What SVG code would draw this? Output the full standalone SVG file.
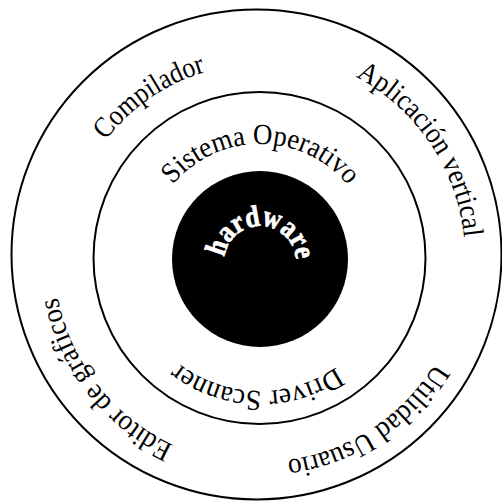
<svg xmlns="http://www.w3.org/2000/svg" xmlns:xlink="http://www.w3.org/1999/xlink" width="502" height="501" viewBox="0 0 502 501">
<style>
.ring{fill:none;stroke:#000;stroke-width:2}
.lbl{font-family:"Liberation Serif","Times New Roman",serif;font-size:29px;fill:#000}
.hw{font-family:"Liberation Serif","Times New Roman",serif;font-size:30px;font-weight:bold;fill:#fff;stroke:#fff;stroke-width:0.8}
</style>
<defs>
<path id="pComp" d="M105.75,140.44 A194,194 0 0 1 260,64"/>
<path id="pSis" d="M172.67,184.72 A114,114 0 0 1 367.13,219.01"/>
<path id="pApl" d="M355.61,76.66 A205,205 0 0 1 461.89,293.6"/>
<path id="pUti" d="M434.87,363.06 A204,204 0 0 1 224.58,458.9"/>
<path id="pEdi" d="M173.58,445 A206,206 0 0 1 54.78,240.04"/>
<path id="pDri" d="M336.09,367.09 A133,133 0 0 1 158.12,343.49"/>
<path id="pHw" d="M224.32,257.18 A36,36 0 1 1 295.45,268.25"/>
</defs>
<rect width="502" height="501" fill="#fff"/>
<g id="outer-ring">
<circle class="ring" cx="256.5" cy="254.5" r="245"/>
</g>
<g id="middle-ring">
<circle class="ring" cx="259.5" cy="258" r="166"/>
</g>
<g id="hardware-core">
<circle cx="260" cy="259" r="88" fill="#000"/>
<text class="hw" textLength="106" lengthAdjust="spacingAndGlyphs"><textPath xlink:href="#pHw" href="#pHw">hardware</textPath></text>
</g>
<g id="sistema-operativo">
<text class="lbl" textLength="200" lengthAdjust="spacingAndGlyphs"><textPath xlink:href="#pSis" href="#pSis">Sistema Operativo</textPath></text>
</g>
<g id="driver-scanner">
<text class="lbl" textLength="168.8" lengthAdjust="spacingAndGlyphs"><textPath xlink:href="#pDri" href="#pDri">Driver Scanner</textPath></text>
</g>
<g id="compilador">
<text class="lbl" textLength="123" lengthAdjust="spacingAndGlyphs"><textPath xlink:href="#pComp" href="#pComp">Compilador</textPath></text>
</g>
<g id="aplicacion-vertical">
<text class="lbl" textLength="202" lengthAdjust="spacingAndGlyphs"><textPath xlink:href="#pApl" href="#pApl">Aplicación vertical</textPath></text>
</g>
<g id="utilidad-usuario">
<text class="lbl" textLength="183" lengthAdjust="spacingAndGlyphs"><textPath xlink:href="#pUti" href="#pUti">Utilidad Usuario</textPath></text>
</g>
<g id="editor-graficos">
<text class="lbl" textLength="195" lengthAdjust="spacingAndGlyphs"><textPath xlink:href="#pEdi" href="#pEdi">Editor de gráficos</textPath></text>
</g>
<g id="connectors"></g>
</svg>
